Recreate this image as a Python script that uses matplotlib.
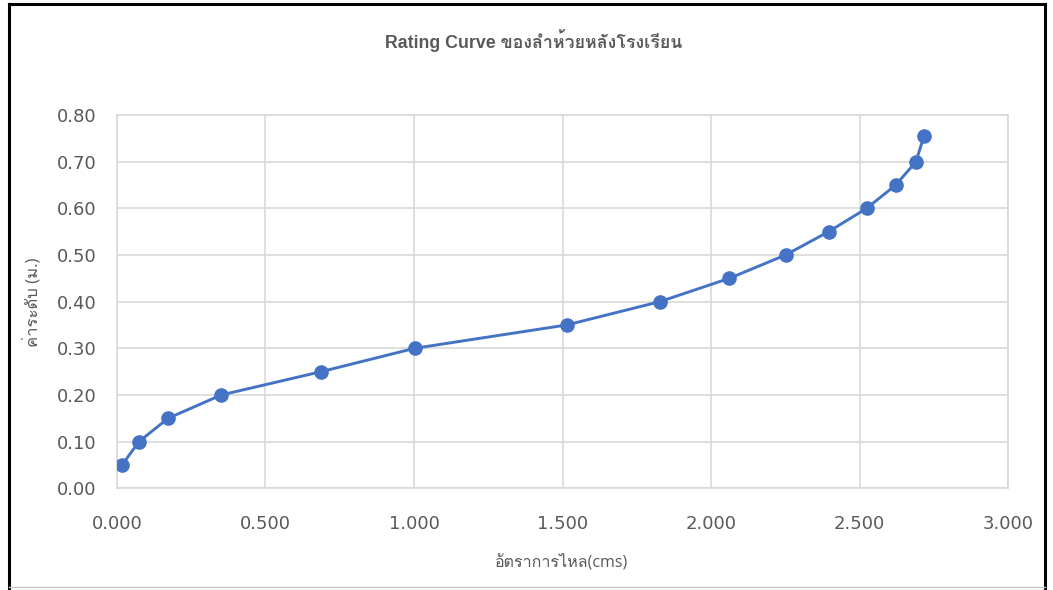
import matplotlib
matplotlib.use("Agg")
import matplotlib.pyplot as plt
from matplotlib import font_manager
from matplotlib.lines import Line2D
from fontTools.ttLib import TTFont

# ข้อมูลอัตราการไหล (cms) และค่าระดับน้ำ (ม.)
discharge = [0.017, 0.074, 0.172, 0.351, 0.688, 1.002, 1.514, 1.828,
             2.062, 2.251, 2.396, 2.524, 2.622, 2.690, 2.717]
stage = [0.05, 0.10, 0.15, 0.20, 0.25, 0.30, 0.35, 0.40,
         0.45, 0.50, 0.55, 0.60, 0.65, 0.70, 0.755]

x_ticks = [0.0, 0.5, 1.0, 1.5, 2.0, 2.5, 3.0]
y_ticks = [0.0, 0.1, 0.2, 0.3, 0.4, 0.5, 0.6, 0.7, 0.8]

title_text = "Rating Curve ของลำห้วยหลังโรงเรียน"
xlabel_text = "อัตราการไหล(cms)"
ylabel_text = "ค่าระดับ (ม.)"


def find_thai_font():
    # หาฟอนต์ที่มีอักษรไทย (ก = U+0E01)
    for f in font_manager.fontManager.ttflist:
        try:
            tt = TTFont(f.fname, fontNumber=0, lazy=True)
            cmap = tt.getBestCmap()
            if cmap and 0x0E01 in cmap:
                return f.name
        except Exception:
            continue
    return None


thai = find_thai_font()
tick_fam = ["DejaVu Sans"]
label_fam = ["Open Sans", "DejaVu Sans"]
title_fam = ["Liberation Sans", "DejaVu Sans"]
if thai:
    label_fam = ["Open Sans", thai, "DejaVu Sans"]
    title_fam = ["Liberation Sans", thai, "DejaVu Sans"]
plt.rcParams["font.family"] = label_fam

grey = "#595959"
grid_c = "#d9d9d9"
blue = "#4472C4"

fig = plt.figure(figsize=(10.53, 5.90), dpi=100)
ax = fig.add_axes([0.1111, 0.1724, 0.8462, 0.6327])

ax.plot(discharge, stage, color=blue, lw=2.1, marker="o", ms=9.5,
        markeredgecolor=blue, solid_capstyle="round", zorder=3)

ax.set_xlim(0, 3.0)
ax.set_ylim(0, 0.8)
ax.set_xticks(x_ticks)
ax.set_yticks(y_ticks)
ax.set_xticklabels(["%.3f" % v for v in x_ticks], family=tick_fam)
ax.set_yticklabels(["%.2f" % v for v in y_ticks], family=tick_fam)
ax.grid(True, color=grid_c, lw=1.2)
ax.set_axisbelow(True)
for s in ax.spines.values():
    s.set_color(grid_c)
    s.set_linewidth(1.2)
ax.tick_params(length=0, labelsize=13, colors=grey)
ax.tick_params(axis="x", pad=19)
ax.tick_params(axis="y", pad=15)

fig.text(0.507, 0.932, title_text, ha="center", va="center",
         fontsize=12.8, color=grey, fontweight="bold", family=title_fam)
fig.text(0.533, 0.047, xlabel_text, ha="center", va="center",
         fontsize=11.5, color=grey)
fig.text(0.031, 0.487, ylabel_text, ha="center", va="center",
         fontsize=12, color=grey, rotation=90)

# กรอบหน้ากระดาษ
fig.add_artist(Line2D([0.0085, 0.0085], [0, 0.993], color="black", lw=2.2))
fig.add_artist(Line2D([0.9925, 0.9925], [0, 0.993], color="black", lw=2.2))
fig.add_artist(Line2D([0.0085, 0.9925], [0.993, 0.993], color="black", lw=2.2))
fig.add_artist(Line2D([0.0085, 0.9925], [0.005, 0.005], color="#c8c8c8", lw=1))

fig.savefig("out.png", dpi=100)
